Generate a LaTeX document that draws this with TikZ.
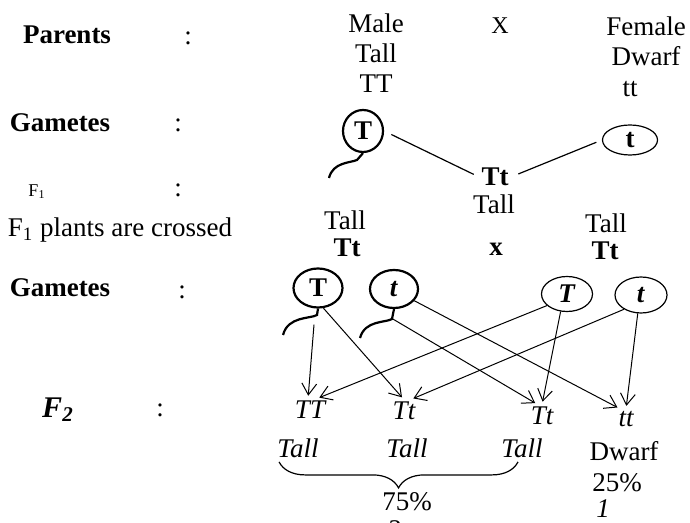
\documentclass[tikz,border=0pt]{standalone}
\usepackage{fontspec}
\setmainfont{Liberation Serif}
\usetikzlibrary{arrows.meta,positioning,shapes.geometric,decorations.pathreplacing}

\begin{document}
\begin{tikzpicture}[
  x=0.5pt, y=-0.5pt,
  font=\fontsize{13.5}{15}\selectfont,
  txt/.style={inner sep=1pt},
  hd/.style={txt, font=\fontsize{13.5}{15}\selectfont\bfseries},
  geno/.style={txt, font=\fontsize{13.5}{15}\selectfont\itshape},
  malegam/.style={draw, ellipse, line width=1.1pt, inner sep=0pt},
  femgam/.style={draw, ellipse, line width=0.6pt, inner sep=0pt},
  tail/.style={line width=1.1pt},
  link/.style={line width=0.6pt, shorten <=4pt, shorten >=3pt},
  arr/.style={-{Straight Barb[length=2mm, width=2.6mm]}, line width=0.5pt, shorten >=1.5pt},
  brace/.style={decorate, decoration={brace, mirror, amplitude=13pt}, line width=0.6pt}
]
\useasboundingbox[fill=white] (0,0) rectangle (690,523);
% left column
\node[hd] (par) at (67,35) {Parents};
\node[txt] (c1) at (188,38) {:};
\node[hd] (gam1) at (60,123) {Gametes};
\node[txt] (c2) at (178,125) {:};
\node[txt, font=\fontsize{9}{10}\selectfont] (fone) at (37,192) {F\textsubscript{1}};
\node[txt] (c3) at (178,190) {:};
\node[txt] (cross) at (120,230) {F\textsubscript{1} plants are crossed};
\node[hd] (gam2) at (60,288) {Gametes};
\node[txt] (c4) at (182,292) {:};
\node[txt, font=\fontsize{15}{16}\selectfont\bfseries\itshape] (ftwo) at (58,410) {F\textsubscript{2}};
\node[txt] (c5) at (160,410) {:};
% parents
\node[txt, align=center] (male) at (376,53) {Male\\Tall\\TT};
\node[txt, font=\fontsize{12}{14}\selectfont] (px) at (500,26) {X};
\node[txt, align=center] (fem) at (646,41) {Female\\Dwarf};
\node[txt] (ftt) at (630,89) {tt};
% gametes of parents
\node[malegam, minimum width=20pt, minimum height=21pt] (mT1) at (363,131) {\textbf{T}};
\draw[tail] (mT1.south) -- (357,160) .. controls (350,163) and (333,162) .. (329,178);
\node[femgam, minimum width=27.5pt, minimum height=15pt] (ft1) at (630,140) {\textbf{t}};
% F1
\node[hd] (fTt) at (495,177) {Tt};
\node[txt] (fTall) at (494,204) {Tall};
\draw[link] (mT1.east) -- (fTt.west);
\draw[link] (fTt.east) -- (ft1.west);
% F1 x F1
\node[txt] (lTall) at (345,220) {Tall};
\node[hd] (lTt) at (347,248) {Tt};
\node[hd] (fx) at (496,249) {x};
\node[txt] (rTall) at (606,223) {Tall};
\node[hd] (rTt) at (605,251) {Tt};
% gametes of F1
\node[malegam, minimum width=24.5pt, minimum height=19.5pt] (mT2) at (318,288) {\textbf{T}};
\draw[tail] (mT2.south) -- (317,315) .. controls (310,319) and (288,316) .. (283,335);
\node[malegam, minimum width=24pt, minimum height=19pt] (mt2) at (394,289) {\textbf{\textit{t}}};
\draw[tail] (mt2.south) -- (392,319) .. controls (385,323) and (365,320) .. (360,338);
\node[femgam, minimum width=25.5pt, minimum height=17.5pt] (fT2) at (567,294) {\textbf{\textit{T}}};
\node[femgam, minimum width=26pt, minimum height=18pt] (ft2) at (641,295) {\textbf{\textit{t}}};
% F2
\node[geno] (TT) at (310,410) {TT};
\node[geno] (Tt1) at (404,411) {Tt};
\node[geno] (Tt2) at (542,416) {Tt};
\node[geno] (tt) at (626,419) {tt};
\draw[arr] ([xshift=-2pt,yshift=-8pt]mT2.south) -- (TT.100);
\draw[arr] (mT2.-75) -- (Tt1.north);
\draw[arr] (fT2.-150) -- (TT.60);
\draw[arr] (fT2.-110) -- (Tt2.north);
\draw[arr] ([xshift=-0.5pt,yshift=-5pt]mt2.south) -- (Tt2.110);
\draw[arr] (mt2.-30) -- (tt.120);
\draw[arr] (ft2.-140) -- (Tt1.60);
\draw[arr] (ft2.-100) -- (tt.north);
% phenotypes
\node[geno] (tA) at (298,448) {Tall};
\node[geno] (tB) at (407,448) {Tall};
\node[geno] (tC) at (522,448) {Tall};
\node[txt] (dw) at (624,451) {Dwarf};
\draw[brace] ([xshift=2pt,yshift=-1pt]tA.south west) -- ([xshift=-2pt,yshift=-1pt]tC.south);
\node[txt] (p75) at (407,502) {75\%};
\node[txt, font=\fontsize{13.5}{15}\selectfont\itshape] (r3) at (394,530) {3};
\node[txt] (p25) at (617,483) {25\%};
\node[txt, font=\fontsize{13.5}{15}\selectfont\itshape] (r1) at (603,509) {1};
\end{tikzpicture}
\end{document}
